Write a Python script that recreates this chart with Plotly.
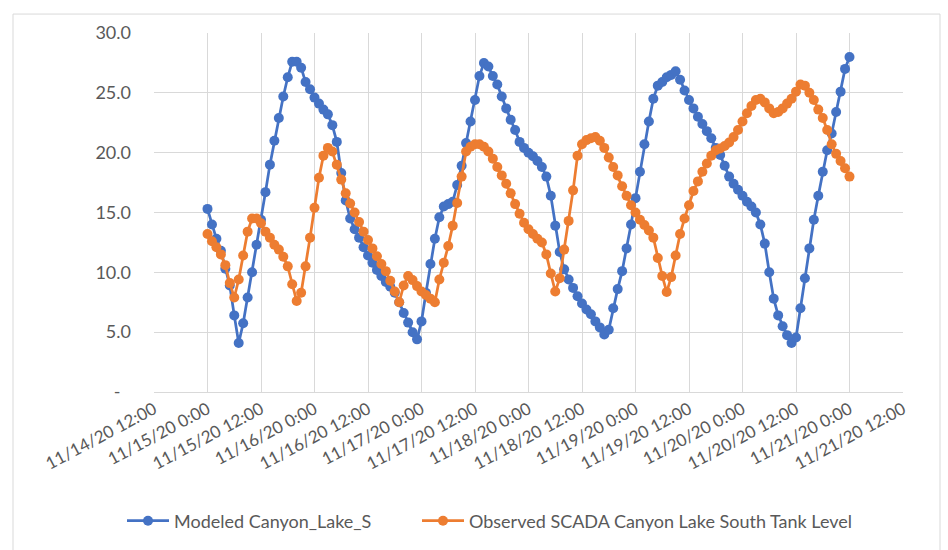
import pandas as pd
import plotly.graph_objects as go

# Hourly timestamps of the tank level series
start_time = "2020-11-15 00:00"
n_hours = 145
times = pd.date_range(start_time, periods=n_hours, freq="h")

modeled = [
    15.3, 14.0, 12.8, 11.8, 10.3, 8.9, 6.4, 4.1, 5.75, 7.9,
    10.0, 12.3, 14.4, 16.7, 19.0, 21.0, 22.9, 24.7, 26.3, 27.6,
    27.6, 27.1, 25.9, 25.3, 24.6, 24.1, 23.6, 23.2, 22.3, 20.9,
    18.3, 16.0, 14.5, 13.6, 12.9, 12.1, 11.4, 10.8, 10.2, 9.7,
    9.2, 8.8, 8.3, 7.5, 6.6, 5.8, 5.0, 4.4, 5.9, 8.3,
    10.7, 12.8, 14.6, 15.5, 15.7, 15.9, 17.3, 18.9, 20.8, 22.6,
    24.4, 26.4, 27.5, 27.2, 26.4, 25.7, 24.7, 23.7, 22.75, 21.9,
    20.9, 20.4, 20.0, 19.7, 19.3, 18.8, 18.0, 16.4, 13.9, 11.7,
    10.25, 9.4, 8.7, 8.0, 7.4, 6.9, 6.5, 5.9, 5.4, 4.8,
    5.2, 7.0, 8.6, 10.1, 12.0, 14.0, 16.2, 18.4, 20.7, 22.6,
    24.5, 25.6, 25.9, 26.3, 26.5, 26.8, 26.1, 25.2, 24.4, 23.7,
    23.0, 22.4, 21.8, 21.2, 20.4, 19.8, 18.9, 18.0, 17.4, 16.9,
    16.4, 15.9, 15.5, 15.0, 14.0, 12.4, 10.0, 7.8, 6.4, 5.5,
    4.75, 4.1, 4.55, 7.0, 9.5, 12.0, 14.4, 16.4, 18.4, 20.2,
    21.6, 23.4, 25.1, 27.0, 28.0,
]

observed = [
    13.2, 12.6, 12.1, 11.5, 10.6, 9.1, 7.9, 9.4, 11.4, 13.4,
    14.5, 14.5, 14.1, 13.4, 12.9, 12.3, 11.9, 11.3, 10.5, 9.0,
    7.6, 8.3, 10.5, 12.9, 15.4, 17.9, 19.75, 20.4, 20.1, 19.0,
    17.75, 16.6, 15.75, 15.0, 14.2, 13.4, 12.7, 12.0, 11.35, 10.7,
    10.1, 9.3, 8.4, 7.5, 8.9, 9.7, 9.35, 8.85, 8.4, 8.1,
    7.8, 7.5, 9.4, 10.8, 12.2, 13.9, 15.8, 18.0, 20.1, 20.5,
    20.7, 20.7, 20.5, 20.1, 19.5, 18.8, 18.1, 17.4, 16.6, 15.7,
    14.9, 14.15, 13.6, 13.2, 12.8, 12.5, 11.5, 9.9, 8.4, 9.5,
    11.9, 14.3, 16.85, 19.75, 20.7, 21.05, 21.2, 21.3, 21.0, 20.4,
    19.6, 18.8, 18.1, 17.2, 16.4, 15.6, 15.0, 14.4, 13.95, 13.5,
    12.9, 11.2, 9.7, 8.35, 9.6, 11.4, 13.2, 14.5, 15.6, 16.8,
    17.6, 18.4, 19.1, 19.75, 20.2, 20.35, 20.55, 20.85, 21.3, 21.9,
    22.6, 23.3, 23.9, 24.4, 24.5, 24.2, 23.7, 23.3, 23.4, 23.7,
    24.1, 24.5, 25.1, 25.7, 25.6, 25.0, 24.4, 23.6, 22.9, 21.9,
    20.7, 19.9, 19.3, 18.7, 18.0,
]

series_names = ["Modeled Canyon_Lake_S", "Observed SCADA Canyon Lake South Tank Level"]
series_colors = ["#4472C4", "#ED7D31"]
legend_ids = ["legend", "legend2"]

y_tick_values = [0, 5, 10, 15, 20, 25, 30]
y_tick_labels = ["-\u2007", "5.0", "10.0", "15.0", "20.0", "25.0", "30.0"]

x_range = ["2020-11-14 12:00", "2020-11-21 12:00"]
x_tick_values = pd.date_range(x_range[0], x_range[1], freq="12h")
x_tick_labels = [f"{t.month}/{t.day}/{t.strftime('%y')} {t.hour}:00" for t in x_tick_values]

W, H = 948, 550
ML, MR, MT, MB = 154, 45, 33, 157
plot_w = W - ML - MR
plot_h = H - MT - MB

fig = go.Figure()
for name, vals, color, lg in zip(series_names, [modeled, observed], series_colors, legend_ids):
    fig.add_trace(go.Scatter(
        x=times, y=vals, name=name, mode="lines+markers",
        line=dict(color=color, width=2.75),
        marker=dict(color=color, size=10, line=dict(width=0)),
        legend=lg,
    ))

font_family = "Lato, 'Open Sans', sans-serif"
grid = "#d9d9d9"
text_color = "#595959"


def legend_box(left_px):
    return dict(
        orientation="h", x=(left_px - ML) / plot_w, xanchor="left",
        y=-(521 - (H - MB)) / plot_h, yanchor="middle",
        font=dict(size=18, color=text_color), itemwidth=42,
        bgcolor="rgba(0,0,0,0)",
    )


fig.update_layout(
    width=W, height=H,
    margin=dict(l=ML, r=MR, t=MT, b=MB),
    paper_bgcolor="white", plot_bgcolor="white",
    font=dict(family=font_family, color=text_color, size=17),
    showlegend=True,
    legend=legend_box(122),
    legend2=legend_box(417),
    xaxis=dict(
        type="date", range=x_range,
        tickmode="array", tickvals=x_tick_values, ticktext=x_tick_labels,
        tickangle=-28, tickfont=dict(size=17, color=text_color),
        showgrid=True, gridcolor=grid, gridwidth=1,
        showline=True, linecolor=grid, linewidth=1,
        ticks="", zeroline=False,
    ),
    yaxis=dict(
        range=[0, 30], tickmode="array", tickvals=y_tick_values, ticktext=y_tick_labels,
        tickfont=dict(size=18, color=text_color),
        showgrid=True, gridcolor=grid, gridwidth=1,
        showline=False, zeroline=False, ticks="", ticklabelstandoff=22,
    ),
    shapes=[dict(
        type="rect", xref="paper", yref="paper",
        x0=(13 - ML) / plot_w, x1=(940 - ML) / plot_w,
        y0=-(560 - (H - MB)) / plot_h, y1=1 + (MT - 14) / plot_h,
        line=dict(color=grid, width=1), fillcolor="rgba(0,0,0,0)", layer="below",
    )],
)

fig.write_html("out.html")
